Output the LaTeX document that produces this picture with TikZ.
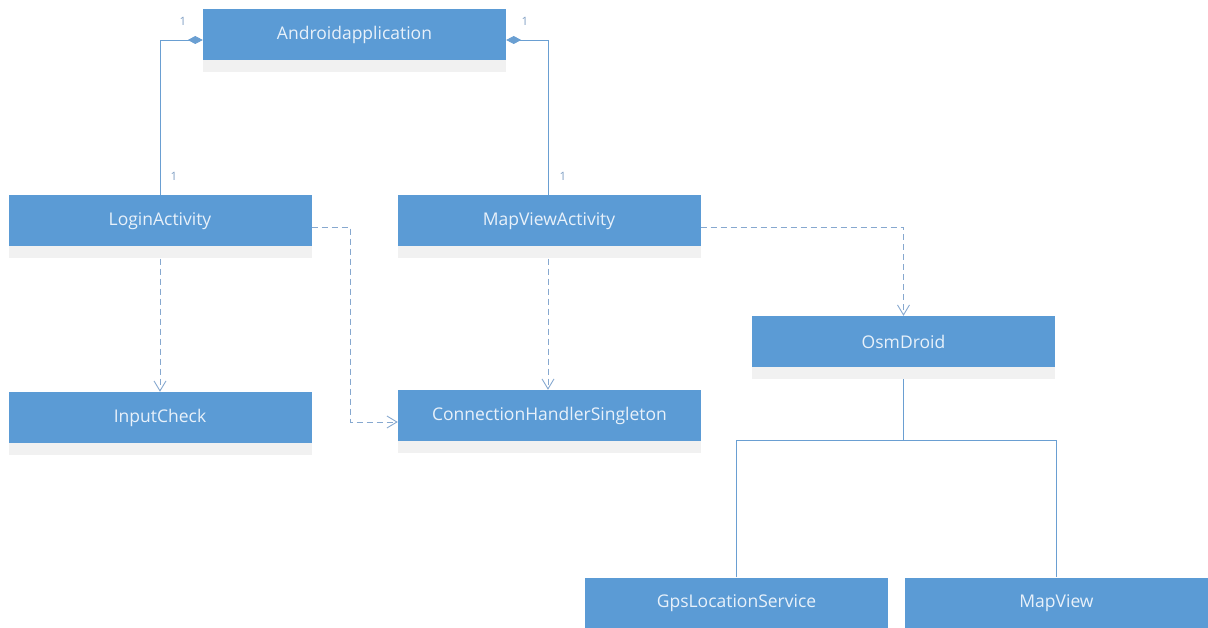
\documentclass[tikz,border=0pt]{standalone}
\usepackage{fontspec}
\setmainfont{Open Sans}
\usetikzlibrary{arrows.meta,shadows}
\definecolor{boxblue}{HTML}{5B9BD5}
\definecolor{boxtext}{HTML}{E8F1FA}
\definecolor{linkblue}{HTML}{6A9FD2}
\definecolor{depblue}{HTML}{86A8CF}
\definecolor{shadowgray}{HTML}{F1F1F1}
\definecolor{multgray}{HTML}{7F9FC4}
\tikzset{
  classbox/.style={rectangle, fill=boxblue, text=boxtext, minimum width=303pt,
    minimum height=51pt, inner sep=0pt, font=\fontsize{17.5}{20}\selectfont,
    drop shadow={shadow xshift=0pt, shadow yshift=-12pt, fill=shadowgray, opacity=1}},
  assoc/.style={draw=linkblue, line width=0.9pt},
  composite/.style={assoc, {Diamond[length=15pt,width=8pt,fill=linkblue]}-},
  depend/.style={draw=depblue, line width=0.9pt, dash pattern=on 6pt off 4pt,
    -{Straight Barb[length=10pt,width=12pt]}},
  mult/.style={text=multgray, font=\fontsize{11.5}{13}\selectfont, inner sep=0pt}
}
\begin{document}
\begin{tikzpicture}[x=1pt, y=-1pt]
  \useasboundingbox (0,0) rectangle (1208,628);

  % classes
  \node[classbox] (app)     at (354.5, 34.5) {Androidapplication};
  \node[classbox] (login)   at (160, 221)    {LoginActivity};
  \node[classbox] (mapact)  at (549, 221)    {MapViewActivity};
  \node[classbox] (input)   at (160, 417.5)  {InputCheck};
  \node[classbox] (conn)    at (549.5, 415.5){ConnectionHandlerSingleton};
  \node[classbox] (osm)     at (903.5, 341.5){OsmDroid};
  \node[classbox] (gps)     at (736.5, 603)  {GpsLocationService};
  \node[classbox] (mapview) at (1056.5, 603) {MapView};

  % composition: the application owns both activities
  \coordinate (appL) at ([yshift=-5.5pt]app.west);
  \coordinate (appR) at ([yshift=-5.5pt]app.east);
  \draw[composite] (appL) -- (160, 40) -- (login.north);
  \draw[composite] (appR) -- (548, 40) -- (548, 195);
  \node[mult] (m1) at (183, 21)  {1};
  \node[mult] (m2) at (174, 176) {1};
  \node[mult] (m3) at (525, 21)  {1};
  \node[mult] (m4) at (563, 176) {1};

  % dependencies
  \draw[depend] ([yshift=-12pt]login.south) -- (input.north);
  \draw[depend] ([yshift=-6pt]login.east) -- (350, 227) -- (350, 422)
    -- ([yshift=-6.5pt]conn.west);
  \draw[depend] ([xshift=-1pt,yshift=-12pt]mapact.south) -- ([xshift=-1.5pt]conn.north);
  \draw[depend] ([yshift=-6pt]mapact.east) -- (903.5, 227) -- (osm.north);

  % OsmDroid components
  \coordinate (split) at (903.5, 440);
  \draw[assoc] ([yshift=-12pt]osm.south) -- (split);
  \draw[assoc] (gps.north) -- (736.5, 440) -- (1056.5, 440) -- (mapview.north);
\end{tikzpicture}
\end{document}
